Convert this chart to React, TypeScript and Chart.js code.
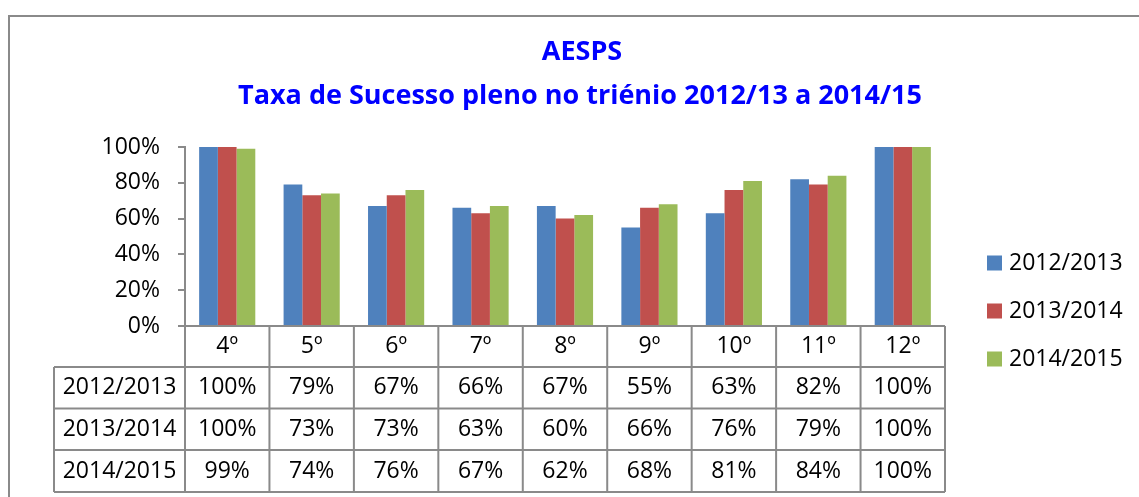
import React, { useEffect, useRef } from "react";
import { Chart, registerables } from "chart.js";

Chart.register(...registerables);

const categories = ["4º", "5º", "6º", "7º", "8º", "9º", "10º", "11º", "12º"];
const seriesNames = ["2012/2013", "2013/2014", "2014/2015"];
const values2012 = [1.0, 0.79, 0.67, 0.66, 0.67, 0.55, 0.63, 0.82, 1.0];
const values2013 = [1.0, 0.73, 0.73, 0.63, 0.6, 0.66, 0.76, 0.79, 1.0];
const values2014 = [0.99, 0.74, 0.76, 0.67, 0.62, 0.68, 0.81, 0.84, 1.0];
const seriesColors = ["#4F81BD", "#C0504D", "#9BBB59"];
const titleLines = ["AESPS", "Taxa de Sucesso pleno no triénio 2012/13 a 2014/15"];

const FONT = '"Open Sans", "Noto Sans", sans-serif';
const GRAY = "#8A8A8A";

const pct = (v: number) => Math.round(v * 100) + "%";

const tablePlugin = {
  id: "excelTable",
  afterDraw(chart: any) {
    const ctx = chart.ctx as CanvasRenderingContext2D;
    const area = chart.chartArea;
    const xs = chart.scales.x;
    const n = categories.length;
    const allSeries = [values2012, values2013, values2014];

    ctx.save();
    // outer border
    ctx.strokeStyle = GRAY;
    ctx.lineWidth = 2;
    ctx.beginPath();
    ctx.moveTo(9, 600);
    ctx.lineTo(9, 16);
    ctx.lineTo(1200, 16);
    ctx.stroke();

    // title
    ctx.fillStyle = "#0000FF";
    ctx.textAlign = "center";
    ctx.textBaseline = "middle";
    ctx.font = "bold 27px " + FONT;
    ctx.fillText(titleLines[0], 582, 52);
    ctx.fillText(titleLines[1], 580, 96);

    // table geometry
    const bounds: number[] = [area.left];
    for (let i = 0; i < n - 1; i++) {
      bounds.push((xs.getPixelForValue(i) + xs.getPixelForValue(i + 1)) / 2);
    }
    bounds.push(area.right);
    const rowY = [area.bottom, 367, 408.5, 450, 492];
    const labelLeft = 54;

    ctx.strokeStyle = GRAY;
    ctx.lineWidth = 2;
    ctx.beginPath();
    ctx.moveTo(area.left, rowY[0]);
    ctx.lineTo(area.right, rowY[0]);
    for (let r = 1; r < rowY.length; r++) {
      ctx.moveTo(labelLeft, rowY[r]);
      ctx.lineTo(area.right, rowY[r]);
    }
    ctx.moveTo(labelLeft, rowY[1]);
    ctx.lineTo(labelLeft, rowY[4]);
    for (const b of bounds) {
      ctx.moveTo(b, rowY[0]);
      ctx.lineTo(b, rowY[4]);
    }
    ctx.stroke();

    // table text
    ctx.fillStyle = "#000";
    ctx.font = "23px " + FONT;
    ctx.textAlign = "center";
    for (let s = 0; s < allSeries.length; s++) {
      const cy = (rowY[s + 1] + rowY[s + 2]) / 2;
      ctx.fillText(seriesNames[s], (labelLeft + area.left) / 2, cy);
      for (let i = 0; i < n; i++) {
        ctx.fillText(pct(allSeries[s][i]), (bounds[i] + bounds[i + 1]) / 2, cy);
      }
    }

    // legend
    const legendY = [263, 311, 359];
    ctx.textAlign = "left";
    for (let s = 0; s < seriesNames.length; s++) {
      ctx.fillStyle = seriesColors[s];
      ctx.fillRect(987, legendY[s] - 7.5, 15, 15);
      ctx.fillStyle = "#000";
      ctx.fillText(seriesNames[s], 1009, legendY[s]);
    }
    ctx.restore();
  },
};

export default function App() {
  const ref = useRef<HTMLCanvasElement>(null);
  useEffect(() => {
    if (!ref.current) return;
    const chart = new Chart(ref.current, {
      type: "bar",
      data: {
        labels: categories,
        datasets: [values2012, values2013, values2014].map((vals, i) => ({
          label: seriesNames[i],
          data: vals,
          backgroundColor: seriesColors[i],
          borderWidth: 0,
          barPercentage: 1,
          categoryPercentage: 0.665,
        })),
      },
      options: {
        animation: false,
        responsive: false,
        devicePixelRatio: 1,
        layout: { padding: { top: 147, right: 194, left: 0, bottom: 0 } },
        plugins: { legend: { display: false }, title: { display: false }, tooltip: { enabled: false } },
        scales: {
          x: {
            grid: { display: false, drawTicks: false },
            border: { display: false },
            ticks: { font: { family: FONT, size: 23 }, color: "#000", padding: 7, maxRotation: 0 },
            afterFit: (s: any) => {
              s.height = 171;
            },
          },
          y: {
            min: 0,
            max: 1,
            ticks: {
              stepSize: 0.2,
              callback: (v: any) => pct(Number(v)),
              font: { family: FONT, size: 23 },
              color: "#000",
              padding: 18,
            },
            grid: { drawOnChartArea: false, tickLength: 7, color: GRAY, lineWidth: 2 },
            border: { color: GRAY, width: 2 },
            afterFit: (s: any) => {
              s.width = 185;
            },
          },
        },
      },
      plugins: [tablePlugin],
    });
    return () => chart.destroy();
  }, []);
  return (
    <div style={{ position: "fixed", left: 0, top: 0, width: 1139, height: 497, background: "#fff" }}>
      <canvas ref={ref} width={1139} height={497} />
    </div>
  );
}
